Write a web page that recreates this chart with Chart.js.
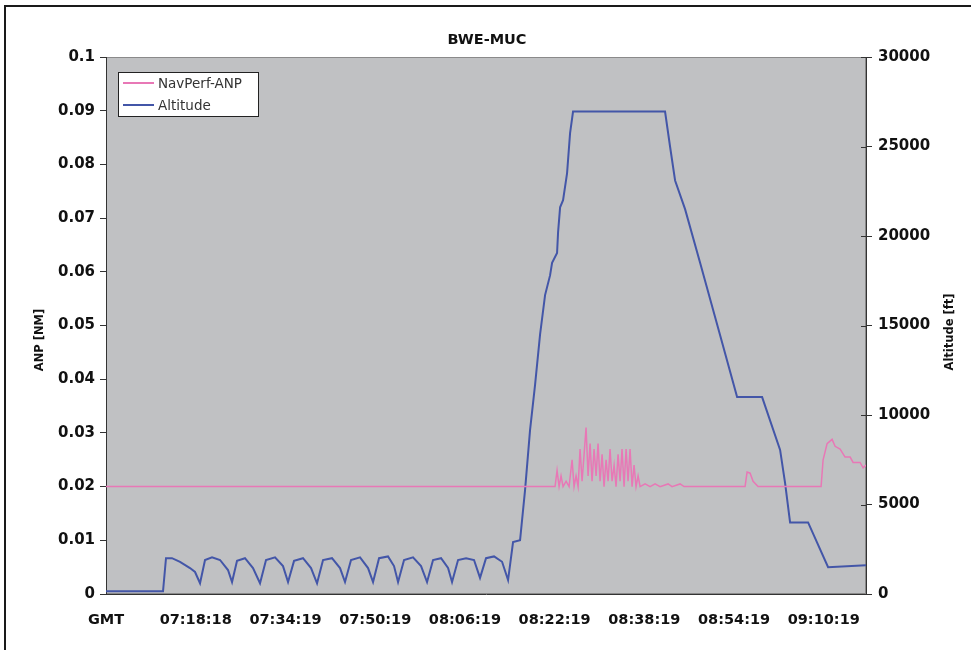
<!DOCTYPE html>
<html>
<head>
<meta charset="utf-8">
<script src="https://cdn.jsdelivr.net/npm/chart.js@4.4.1/dist/chart.umd.min.js"></script>
<style>
  html, body { margin: 0; padding: 0; background: #ffffff; }
  #wrap { width: 971px; height: 650px; position: relative; }
</style>
</head>
<body>
<div id="wrap"><canvas id="c" width="971" height="650"></canvas></div>
<script>
// ---- data (time = minutes after 07:00:00 GMT) ----
const chartTitle = 'BWE-MUC';
const xStartLabel = 'GMT';
const xTickLabels = ['07:18:18', '07:34:19', '07:50:19', '08:06:19', '08:22:19', '08:38:19', '08:54:19', '09:10:19'];
const xMin = 2.3;     // 07:02:18
const xMax = 137.85;  // 09:17:51

const altTime = [2.3, 12.47, 13.0, 14.07, 15.5, 17.28, 18.18, 19.07, 19.96, 21.21, 22.64, 24.06, 24.78, 25.67,
  27.09, 28.52, 29.77, 30.84, 32.45, 33.87, 34.77, 35.84, 37.44, 38.87, 39.94, 41.01, 42.61, 44.04, 44.93,
  46.0, 47.61, 49.04, 49.93, 51.0, 52.6, 53.67, 54.39, 55.46, 57.06, 58.49, 59.56, 60.63, 62.06, 63.31,
  64.02, 65.09, 66.52, 67.94, 69.01, 70.08, 71.51, 72.94, 74.01, 74.9, 76.15, 77.04, 77.93, 78.83, 79.72,
  80.61, 81.5, 81.86, 82.75, 82.93, 83.29, 83.82, 84.53, 85.07, 85.6, 102.01, 102.9, 103.8, 105.58, 108.26,
  111.83, 114.86, 119.32, 122.53, 123.42, 124.31, 127.52, 131.09, 137.85];
const altFt = [150, 150, 2000, 2000, 1800, 1450, 1230, 600, 1900, 2050, 1900, 1340, 670, 1850,
  2000, 1450, 600, 1900, 2050, 1560, 670, 1850, 2000, 1450, 600, 1900, 2000, 1450, 670,
  1900, 2050, 1450, 670, 2000, 2100, 1560, 670, 1900, 2050, 1560, 670, 1900, 2000, 1450,
  670, 1900, 2000, 1900, 900, 2000, 2100, 1800, 780, 2900, 3000, 5800, 9150, 11700, 14500,
  16700, 17800, 18500, 19050, 20200, 21600, 22000, 23500, 25750, 26950, 26950, 25000, 23100, 21500, 18500,
  14450, 11000, 11000, 8050, 6200, 4000, 4000, 1500, 1600];

const anpTime = [2.3, 82.39, 82.75, 83.11, 83.46, 83.82, 84.36, 84.89, 85.43, 85.78, 86.14, 86.50, 86.85,
  87.21, 87.57, 87.92, 88.28, 88.64, 88.99, 89.35, 89.71, 90.06, 90.42, 90.78, 91.13, 91.49, 91.85, 92.20,
  92.56, 92.92, 93.27, 93.63, 93.99, 94.34, 94.70, 95.06, 95.41, 95.77, 96.13, 96.48, 96.84, 97.20, 97.56,
  98.45, 99.34, 100.23, 101.12, 102.55, 103.26, 104.69, 105.40,
  116.28, 116.64, 117.18, 117.71, 118.60,
  129.84, 130.20, 130.91, 131.80, 132.34, 133.23, 134.12, 135.02, 135.55, 136.80, 137.34, 137.85];
const anpNM = [0.020, 0.020, 0.023, 0.020, 0.022, 0.020, 0.021, 0.020, 0.025, 0.020, 0.022, 0.020, 0.027,
  0.021, 0.026, 0.031, 0.022, 0.028, 0.021, 0.027, 0.022, 0.028, 0.021, 0.026, 0.020, 0.025, 0.021, 0.027,
  0.021, 0.024, 0.020, 0.026, 0.021, 0.027, 0.020, 0.027, 0.021, 0.027, 0.020, 0.024, 0.020, 0.022, 0.020,
  0.0205, 0.020, 0.0205, 0.020, 0.0205, 0.020, 0.0205, 0.020,
  0.020, 0.0227, 0.0225, 0.021, 0.020,
  0.020, 0.025, 0.028, 0.0288, 0.0275, 0.027, 0.0255, 0.0255, 0.0245, 0.0245, 0.0235, 0.024];

const seriesNames = ['NavPerf-ANP', 'Altitude'];
const seriesColors = ['#e878b6', '#4356a8'];
const leftTitle = 'ANP [NM]';
const rightTitle = 'Altitude [ft]';

// ---- build ----
const FONT = 'DejaVu Sans';
const xTickValues = [xMin].concat(xTickLabels.map(s => {
  const p = s.split(':').map(Number);
  return p[0] * 60 + p[1] + p[2] / 60 - 420;
}));
const xTickText = [xStartLabel].concat(xTickLabels);

const anpData = anpTime.map((t, i) => ({ x: t, y: anpNM[i] }));
const altData = altTime.map((t, i) => ({ x: t, y: altFt[i] }));

const decor = {
  id: 'decor',
  beforeDraw(chart) {
    const { ctx, chartArea: a } = chart;
    ctx.save();
    ctx.fillStyle = '#ffffff';
    ctx.fillRect(0, 0, chart.width, chart.height);
    ctx.fillStyle = '#c0c1c3';
    ctx.fillRect(a.left, a.top, a.right - a.left, a.bottom - a.top);
    ctx.strokeStyle = '#8a8a8a';
    ctx.lineWidth = 1;
    ctx.strokeRect(a.left + 0.5, a.top + 0.5, a.right - a.left - 1, a.bottom - a.top - 1);
    ctx.restore();
  },
  afterDraw(chart) {
    const { ctx, chartArea: a } = chart;
    ctx.save();
    // outer frame (left & top visible)
    ctx.strokeStyle = '#1a1a1a';
    ctx.lineWidth = 2;
    ctx.beginPath();
    ctx.moveTo(5, 652); ctx.lineTo(5, 6); ctx.lineTo(975, 6);
    ctx.stroke();
    // title
    ctx.fillStyle = '#111';
    ctx.font = 'bold 14.5px "' + FONT + '"';
    ctx.textAlign = 'center';
    ctx.textBaseline = 'middle';
    ctx.fillText(chartTitle, (a.left + a.right) / 2 + 1, 40);
    // axis titles
    ctx.font = 'bold 11.5px "' + FONT + '"';
    ctx.save();
    ctx.translate(40, 340); ctx.rotate(-Math.PI / 2);
    ctx.fillText(leftTitle, 0, 0);
    ctx.restore();
    ctx.save();
    ctx.translate(950, 332); ctx.rotate(-Math.PI / 2);
    ctx.fillText(rightTitle, 0, 0);
    ctx.restore();
    // inner tick marks on right axis
    const y2 = chart.scales.y2;
    ctx.strokeStyle = '#333';
    ctx.lineWidth = 1;
    y2.ticks.forEach(t => {
      const yy = Math.round(y2.getPixelForValue(t.value)) + 0.5;
      ctx.beginPath(); ctx.moveTo(a.right - 5, yy); ctx.lineTo(a.right, yy); ctx.stroke();
    });
    // legend
    const lx = 118, ly = 72, lw = 140, lh = 44;
    ctx.fillStyle = '#ffffff';
    ctx.fillRect(lx, ly, lw, lh);
    ctx.strokeStyle = '#222';
    ctx.lineWidth = 1;
    ctx.strokeRect(lx + 0.5, ly + 0.5, lw, lh);
    ctx.font = '13.5px "' + FONT + '"';
    ctx.textAlign = 'left';
    chart.data.datasets.forEach((ds, i) => {
      const yy = ly + 11 + i * 22;
      ctx.strokeStyle = ds.borderColor;
      ctx.lineWidth = 2;
      ctx.beginPath(); ctx.moveTo(lx + 5, yy); ctx.lineTo(lx + 36, yy); ctx.stroke();
      ctx.fillStyle = '#333';
      ctx.fillText(ds.label, lx + 40, yy + 1);
    });
    ctx.restore();
  }
};

const tickFont = { family: FONT, size: 15, weight: 'bold' };

new Chart(document.getElementById('c'), {
  type: 'line',
  data: {
    datasets: [
      { label: seriesNames[0], data: anpData, yAxisID: 'y', borderColor: seriesColors[0],
        borderWidth: 1.5, pointRadius: 0, tension: 0, fill: false },
      { label: seriesNames[1], data: altData, yAxisID: 'y2', borderColor: seriesColors[1],
        borderWidth: 2, pointRadius: 0, tension: 0, fill: false }
    ]
  },
  options: {
    responsive: false,
    animation: false,
    layout: { padding: { top: 57, left: 0, right: 0, bottom: 0 } },
    plugins: { legend: { display: false }, title: { display: false }, tooltip: { enabled: false } },
    scales: {
      x: {
        type: 'linear', min: xMin, max: xMax,
        afterBuildTicks(scale) { scale.ticks = xTickValues.map(v => ({ value: v })); },
        afterFit(scale) { scale.height = 56; },
        ticks: {
          autoSkip: false, maxRotation: 0, minRotation: 0, padding: 18, color: '#111',
          font: { family: FONT, size: 14.5, weight: 'bold' },
          callback(value, index) { return xTickText[index]; }
        },
        grid: { display: true, drawOnChartArea: false, drawTicks: false },
        border: { display: true, color: '#333', width: 1 }
      },
      y: {
        position: 'left', min: 0, max: 0.1,
        afterFit(scale) { scale.width = 106; },
        ticks: { stepSize: 0.01, padding: 5, color: '#111', font: tickFont,
          callback(v) { return String(Number(v.toFixed(2))); } },
        grid: { drawOnChartArea: false, drawTicks: true, tickLength: 6, color: '#333' },
        border: { display: true, color: '#333', width: 1 }
      },
      y2: {
        position: 'right', min: 0, max: 30000,
        afterFit(scale) { scale.width = 105; },
        ticks: { stepSize: 5000, padding: 6, color: '#111', font: tickFont,
          callback(v) { return String(v); } },
        grid: { drawOnChartArea: false, drawTicks: true, tickLength: 6, color: '#333' },
        border: { display: true, color: '#333', width: 1 }
      }
    }
  },
  plugins: [decor]
});
</script>
</body>
</html>
